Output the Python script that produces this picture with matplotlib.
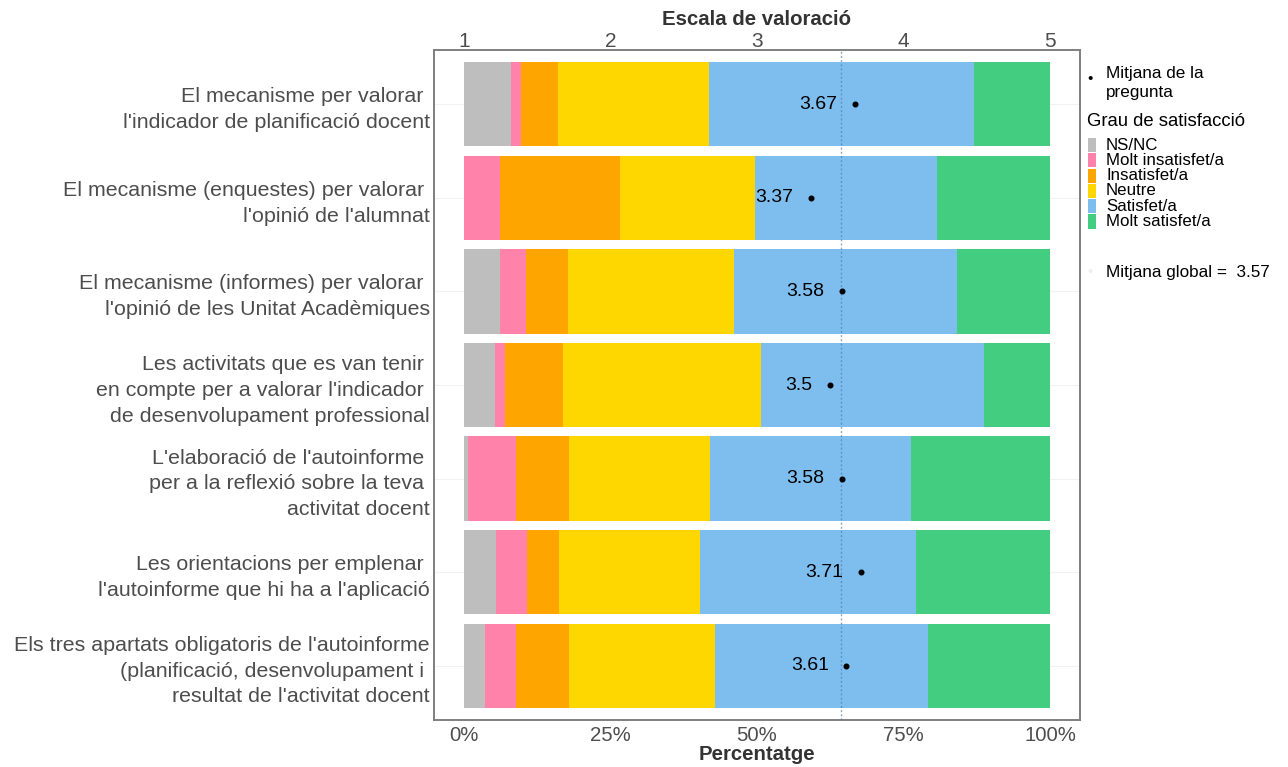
import matplotlib
matplotlib.use("Agg")
import matplotlib.pyplot as plt
from matplotlib.patches import Rectangle
import numpy as np

plt.rcParams['font.family'] = ['Liberation Sans', 'DejaVu Sans']

questions = [
    "El mecanisme per valorar \nl'indicador de planificació docent",
    "El mecanisme (enquestes) per valorar \nl'opinió de l'alumnat",
    "El mecanisme (informes) per valorar \nl'opinió de les Unitat Acadèmiques",
    "Les activitats que es van tenir \nen compte per a valorar l'indicador \nde desenvolupament professional",
    "L'elaboració de l'autoinforme \nper a la reflexió sobre la teva \nactivitat docent",
    "Les orientacions per emplenar \nl'autoinforme que hi ha a l'aplicació",
    "Els tres apartats obligatoris de l'autoinforme\n(planificació, desenvolupament i \nresultat de l'activitat docent",
]

categories = ["NS/NC", "Molt insatisfet/a", "Insatisfet/a", "Neutre",
              "Satisfet/a", "Molt satisfet/a"]
colors = ["#BEBEBE", "#FF82AB", "#FFA500", "#FFD700", "#7EBEEE", "#43CD80"]

# percentatges per pregunta (una llista per categoria)
ns_nc = [8.0, 0.0, 6.1, 5.3, 0.7, 5.5, 3.6]
molt_insat = [1.7, 6.1, 4.5, 1.7, 8.2, 5.2, 5.3]
insat = [6.3, 20.5, 7.2, 9.9, 9.0, 5.5, 9.0]
neutre = [25.8, 23.0, 28.3, 33.8, 24.0, 24.0, 24.9]
satisf = [45.2, 31.1, 38.1, 38.1, 34.3, 37.0, 36.3]
molt_satisf = [13.0, 19.3, 15.8, 11.2, 23.8, 22.8, 20.9]

means = [3.67, 3.37, 3.58, 3.5, 3.58, 3.71, 3.61]
global_mean = 3.57

scale_ticks = [1, 2, 3, 4, 5]
pct_ticks = [0, 25, 50, 75, 100]
pct_labels = ["0%", "25%", "50%", "75%", "100%"]

GREY_TXT = "#4D4D4D"
FRAME = "#7F7F7F"


def draw_bars(ax, ypos):
    """ Stacked horizontal bars from the percentage lists """
    series = [ns_nc, molt_insat, insat, neutre, satisf, molt_satisf]
    left = np.zeros(len(questions))
    for vals, col in zip(series, colors):
        ax.barh(ypos, vals, left=left, height=0.9, color=col,
                edgecolor='none', zorder=2)
        left += np.array(vals)


def draw_means(ax2, ypos):
    """ Dots and labels for the mean of each question on the top scale """
    ax2.axvline(global_mean, color="#4A7DB0", lw=1, ls=(0, (1.5, 1.5)),
                alpha=0.65, zorder=3)
    ax2.scatter(means, ypos, s=11, color='black', zorder=4)
    for m, y in zip(means, ypos):
        ax2.text(m - 0.12, y, str(m), ha='right', va='center',
                 fontsize=14, color='black', zorder=5)


def draw_legend(fig):
    """ Legend drawn to the right of the panel, ggplot style """
    W, H = fig.get_size_inches() * fig.dpi

    def fx(px):
        return px / W

    def fy(py):
        return 1 - py / H

    fig.text(fx(1090), fy(79), "•", fontsize=11, ha='center', va='center')
    fig.text(fx(1106), fy(83), "Mitjana de la\npregunta", fontsize=12.3,
             ha='left', va='center', linespacing=1.3, color='black')
    fig.text(fx(1087), fy(121), "Grau de satisfacció", fontsize=13.3,
             ha='left', va='center', color='black')
    for i, (cat, col) in enumerate(zip(categories, colors)):
        yc = 145 + i * 15.3
        fig.add_artist(Rectangle((fx(1088), fy(yc + 7)), fx(8), 14 / H,
                                 transform=fig.transFigure, color=col,
                                 lw=0))
        fig.text(fx(1106), fy(yc), cat, fontsize=12.2, ha='left',
                 va='center', color='black')
    fig.text(fx(1090), fy(272), "•", fontsize=11, ha='center', va='center',
             color='#EEEEEE')
    fig.text(fx(1106), fy(273), "Mitjana global =  %.2f" % global_mean,
             fontsize=12.3, ha='left', va='center', color='black')


def main():
    fig = plt.figure(figsize=(12.88, 7.67), dpi=100)
    ax = fig.add_axes([434 / 1288, 1 - 720 / 767, 646 / 1288, 670 / 767])

    n = len(questions)
    ypos = np.arange(n, 0, -1)

    draw_bars(ax, ypos)

    pad = 30 / 586 * 100
    ax.set_xlim(-pad, 100 + pad)
    ax.set_ylim(0.42, n + 0.58)
    ax.set_yticks(ypos)
    ax.set_yticklabels(questions, fontsize=15.4, color=GREY_TXT,
                       ha='right', linespacing=1.45)
    ax.set_xticks(pct_ticks)
    ax.set_xticklabels(pct_labels, fontsize=14.7, color=GREY_TXT)
    ax.tick_params(axis='y', length=0, pad=3)
    ax.tick_params(axis='x', length=0, pad=4)
    ax.set_xlabel("Percentatge", fontsize=14.7, fontweight='bold',
                  color="#333333", labelpad=0)
    for y in ypos:
        ax.axhline(y, color="#F2F2F2", lw=0.8, zorder=1)

    ax2 = ax.twiny()
    ax2.set_xlim(1 - pad / 25, 5 + pad / 25)
    ax2.set_xticks(scale_ticks)
    ax2.set_xticklabels([str(t) for t in scale_ticks], fontsize=15,
                        color=GREY_TXT)
    ax2.tick_params(axis='x', length=0, pad=-1)
    ax2.set_xlabel("Escala de valoració", fontsize=14.7, fontweight='bold',
                   color="#333333", labelpad=5)
    draw_means(ax2, ypos)

    for a in (ax, ax2):
        for sp in a.spines.values():
            sp.set_color(FRAME)
            sp.set_linewidth(1.2)

    draw_legend(fig)
    fig.savefig("out.png", dpi=100)


if __name__ == '__main__':
    main()
